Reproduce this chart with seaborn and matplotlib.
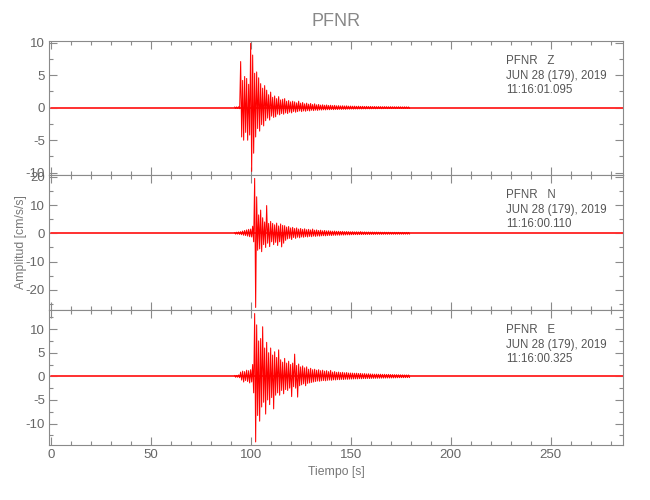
import numpy as np
import pandas as pd
import matplotlib
matplotlib.use("Agg")
import matplotlib.pyplot as plt
import seaborn as sns
from matplotlib.ticker import MultipleLocator

## station / header info
station = "PFNR"
components = ["Z", "N", "E"]
date_txt = "JUN 28 (179), 2019"
start_times = ["11:16:01.095", "11:16:00.110", "11:16:00.325"]

## record length [s] and start of the event window (peaks read every 1 s)
record_len = 286
win_start = 92

## Z component: positive / negative peak per second, t = 92..179
z_up = [0.12, 0.12, 0.15,
        7.1, 4.2, 4.8, 4.5, 3.6, 9.9, 8.1, 5.3, 5.5, 4.6,
        3.7, 3.0, 3.4, 2.7, 2.0, 2.4, 1.6, 1.8, 1.4, 1.7,
        1.2, 1.3, 1.4, 1.0, 1.1, 0.9, 1.0, 0.9, 0.75, 1.0,
        0.7, 0.8, 0.6, 0.7, 0.55, 0.65, 0.5, 0.6, 0.45, 0.5,
        0.4, 0.45, 0.38, 0.42, 0.35, 0.38,
        0.33, 0.36, 0.3, 0.32, 0.28, 0.3, 0.27, 0.29, 0.25,
        0.26, 0.24, 0.25, 0.22, 0.24, 0.21, 0.22, 0.2, 0.21, 0.19,
        0.2, 0.18, 0.19, 0.17, 0.18, 0.17, 0.16, 0.17, 0.16, 0.15,
        0.16, 0.15, 0.15, 0.14, 0.15, 0.14, 0.13, 0.14, 0.13, 0.12]
z_lo = [-0.12, -0.12, -0.15,
        -4.5, -5.0, -3.8, -5.0, -4.2, -9.8, -7.0, -4.5, -3.2, -3.6,
        -2.6, -2.8, -2.0, -1.6, -1.9, -1.3, -1.5, -1.4, -1.0, -1.1,
        -0.9, -1.0, -0.8, -0.9, -0.7, -0.8, -0.6, -0.7, -0.6, -0.5,
        -0.6, -0.5, -0.55, -0.45, -0.5, -0.4, -0.45, -0.38, -0.42, -0.35,
        -0.36, -0.32, -0.34, -0.3, -0.31, -0.28,
        -0.3, -0.27, -0.28, -0.25, -0.26, -0.24, -0.25, -0.22, -0.23,
        -0.21, -0.22, -0.2, -0.21, -0.19, -0.2, -0.18, -0.19, -0.17, -0.18,
        -0.17, -0.16, -0.17, -0.16, -0.15, -0.16, -0.15, -0.14, -0.15, -0.14,
        -0.14, -0.13, -0.14, -0.13, -0.13, -0.12, -0.13, -0.12, -0.12, -0.12]

## N component
n_up = [0.3, 0.4, 0.5, 0.6, 0.8, 1.0, 1.2, 1.4, 1.5,
        2.5, 19.4, 12.9, 6.5, 8.2, 5.5, 4.0, 9.8, 3.5, 4.2,
        3.5, 3.0, 3.6, 2.6, 3.3, 2.8, 2.7, 2.2, 2.4, 1.9,
        2.1, 1.7, 1.9, 1.5, 1.7, 1.4, 1.6, 1.3, 1.4, 1.2,
        1.5, 1.1, 1.2, 1.0, 1.1, 0.9, 1.0, 0.85, 0.9, 0.8,
        0.75, 0.8, 0.7, 0.72, 0.65, 0.68, 0.6, 0.62, 0.58,
        0.55, 0.58, 0.52, 0.54, 0.5, 0.6, 0.48, 0.5, 0.45, 0.47,
        0.44, 0.45, 0.42, 0.43, 0.4, 0.41, 0.38, 0.4, 0.37, 0.38,
        0.36, 0.35, 0.36, 0.34, 0.35, 0.33, 0.34, 0.32, 0.33, 0.32]
n_lo = [-0.3, -0.3, -0.4, -0.5, -0.7, -0.8, -1.0, -1.2, -1.3,
        -3.0, -26.2, -6.0, -5.5, -6.5, -4.0, -5.0, -3.5, -4.7, -3.0,
        -4.0, -3.2, -4.3, -3.0, -4.8, -3.5, -2.5, -2.0, -1.8, -2.2,
        -1.5, -1.8, -1.4, -1.6, -1.3, -1.4, -1.2, -1.3, -1.1, -1.2,
        -1.0, -1.1, -0.95, -1.0, -0.9, -0.85, -0.9, -0.8, -0.75, -0.8,
        -0.7, -0.72, -0.65, -0.68, -0.6, -0.62, -0.58, -0.55, -0.56,
        -0.52, -0.5, -0.48, -0.5, -0.46, -0.47, -0.44, -0.45, -0.42, -0.43,
        -0.4, -0.41, -0.39, -0.38, -0.37, -0.38, -0.36, -0.35, -0.36, -0.34,
        -0.34, -0.33, -0.34, -0.32, -0.33, -0.31, -0.32, -0.3, -0.31, -0.3]

## E component
e_up = [0.2, 0.2, 0.3, 0.9, 1.1, 1.0, 1.3, 1.2, 1.4,
        2.5, 13.3, 10.9, 7.5, 8.0, 10.5, 6.0, 7.2, 5.0, 6.0,
        4.5, 5.2, 4.0, 5.6, 3.5, 3.0, 3.8, 2.8, 3.2, 2.5,
        2.8, 4.7, 2.3, 2.6, 2.0, 2.2, 1.8, 2.0, 1.5, 1.7,
        1.4, 1.5, 1.3, 1.4, 1.2, 1.3, 1.1, 1.2, 1.0, 1.25,
        0.9, 1.0, 0.85, 0.9, 0.8, 0.85, 0.75, 0.8, 0.7,
        0.7, 0.68, 0.65, 0.66, 0.6, 0.62, 0.56, 0.58, 0.52, 0.54,
        0.5, 0.48, 0.46, 0.47, 0.44, 0.45, 0.42, 0.43, 0.4, 0.41,
        0.38, 0.37, 0.36, 0.35, 0.34, 0.33, 0.32, 0.31, 0.3, 0.3]
e_lo = [-0.2, -0.2, -0.3, -0.8, -1.2, -0.9, -1.1, -1.4, -1.2,
        -3.5, -13.9, -8.3, -9.5, -6.5, -5.5, -8.0, -5.0, -6.0, -4.5,
        -6.9, -4.0, -3.5, -4.0, -3.0, -3.7, -2.8, -3.0, -2.5, -4.3,
        -2.2, -2.5, -4.4, -2.0, -1.8, -1.6, -2.0, -1.5, -1.4, -1.3,
        -1.2, -1.1, -1.0, -1.05, -0.95, -0.9, -0.95, -0.85, -0.8, -0.85,
        -0.75, -0.78, -0.7, -0.72, -0.66, -0.68, -0.62, -0.64, -0.6,
        -0.58, -0.56, -0.54, -0.55, -0.5, -0.52, -0.48, -0.49, -0.46, -0.47,
        -0.44, -0.43, -0.42, -0.41, -0.4, -0.39, -0.38, -0.37, -0.36, -0.36,
        -0.35, -0.34, -0.33, -0.32, -0.31, -0.3, -0.3, -0.29, -0.28, -0.28]

ylims = [(-10.35, 10.26), (-27.1, 20.6), (-14.55, 14.05)]
ymajor = [5, 10, 5]
yminor = [2.5, 5, 2.5]

sns.set_style("ticks")
plt.rcParams["font.family"] = ["Liberation Sans", "DejaVu Sans"]
plt.rcParams["axes.edgecolor"] = "#8a8a8a"
plt.rcParams["axes.linewidth"] = 0.8
plt.rcParams["axes.unicode_minus"] = False

fig = plt.figure(figsize=(6.5, 5), dpi=100)
# panel boxes (fig fraction)
bottoms = [0.65, 0.38, 0.11]
heights = [0.268, 0.27, 0.27]

traces = [(z_up, z_lo), (n_up, n_lo), (e_up, e_lo)]
txt_col = "#555555"

for i, (up, lo) in enumerate(traces):
    ax = fig.add_axes([0.0754, bottoms[i], 0.883, heights[i]])
    t = win_start + np.arange(len(up))
    # zigzag between peaks inside the event window
    xs = np.column_stack([t, t + 0.5]).ravel()
    ys = np.column_stack([up, lo]).ravel()
    df = pd.DataFrame({"t": xs, "a": ys})
    # quiet part of the record
    base = pd.DataFrame({"t": [0, record_len], "a": [0, 0]})
    sns.lineplot(data=base, x="t", y="a", estimator=None,
                 color="#ff3030", lw=1.4, ax=ax)
    sns.lineplot(data=df, x="t", y="a", sort=False, estimator=None,
                 color="#ff0000", lw=0.75, ax=ax)

    ax.set_xlim(-0.85, 286.2)
    ax.set_ylim(*ylims[i])
    ax.xaxis.set_major_locator(MultipleLocator(50))
    ax.xaxis.set_minor_locator(MultipleLocator(10))
    ax.yaxis.set_major_locator(MultipleLocator(ymajor[i]))
    ax.yaxis.set_minor_locator(MultipleLocator(yminor[i]))
    ax.tick_params(which="both", direction="in", top=True, right=True,
                   color="#8a8a8a", width=0.8, labelsize=9.5,
                   labelcolor="#666666", pad=3)
    ax.tick_params(which="major", length=6)
    ax.tick_params(which="minor", length=3)
    ax.set_xlabel("")
    ax.set_ylabel("")
    if i < 2:
        ax.tick_params(labelbottom=False)
    for sp in ax.spines.values():
        sp.set_visible(True)

    # header text
    ax.text(0.7957, 0.85, f"{station}   {components[i]}", transform=ax.transAxes,
            va="center", ha="left", fontsize=8.3, color=txt_col)
    ax.text(0.7957, 0.74, date_txt, transform=ax.transAxes,
            va="center", ha="left", fontsize=8.3, color=txt_col)
    ax.text(0.7957, 0.635, start_times[i], transform=ax.transAxes,
            va="center", ha="left", fontsize=8.3, color=txt_col)

fig.text(0.517, 0.956, station, ha="center", va="center", fontsize=13,
         color="#888888")
fig.text(0.517, 0.056, "Tiempo [s]", ha="center", va="center",
         fontsize=8.8, color="#777777")
fig.text(0.033, 0.516, "Amplitud [cm/s/s]", ha="center", va="center",
         rotation=90, fontsize=8.8, color="#777777")

fig.savefig("out.png", dpi=100)
